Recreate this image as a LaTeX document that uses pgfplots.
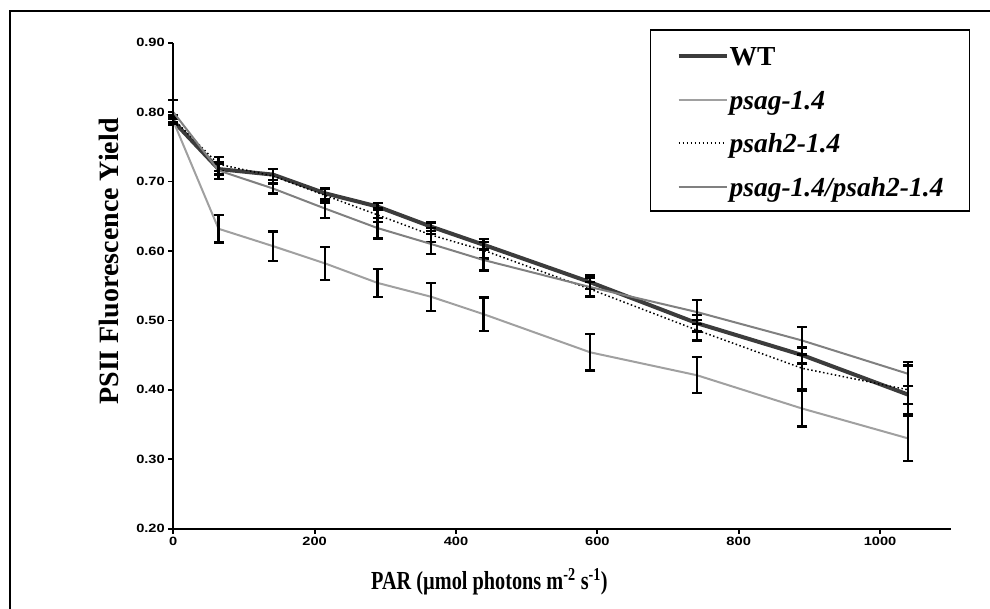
\documentclass[border=0pt]{standalone}
\usepackage{fontspec}
\setmainfont{Liberation Serif}
\newfontfamily\tickfont[FakeStretch=1.22]{Liberation Sans}
\newfontfamily\xlabfont[FakeStretch=0.78]{Liberation Serif}
\usepackage{pgfplots}
\usepackage{pgfplotstable}
\pgfplotsset{compat=1.18}
\definecolor{wtcol}{HTML}{3C3C3C}
\definecolor{psagcol}{HTML}{A0A0A0}
\definecolor{dblcol}{HTML}{808080}
\pgfplotsset{eb/.style={error bars/.cd, y dir=both, y explicit,
  error bar style={line width=2.3pt, black, solid},
  error mark options={line width=2.3pt, black, solid, mark size=5pt, rotate=90}}}

\pgfplotstableread{
x y e
0 0.787 0.005
64 0.718 0.008
141 0.710 0.008
215 0.683 0.008
289 0.664 0.005
365 0.635 0.006
439 0.609 0.008
590 0.555 0.010
741 0.496 0.012
890 0.450 0.012
1040 0.393 0.013
}\wt
\pgfplotstableread{
x y e
0 0.787 0.004
64 0.632 0.020
141 0.607 0.021
215 0.582 0.024
289 0.554 0.020
365 0.534 0.020
439 0.509 0.024
590 0.454 0.026
741 0.421 0.026
890 0.373 0.026
1040 0.330 0.032
}\psag
\pgfplotstableread{
x y e
0 0.790 0.005
64 0.725 0.010
141 0.708 0.010
215 0.680 0.010
289 0.652 0.010
365 0.623 0.010
439 0.601 0.012
590 0.545 0.010
741 0.486 0.015
890 0.431 0.030
1040 0.400 0.035
}\psah
\pgfplotstableread{
x y e
0 0.800 0.017
64 0.716 0.012
141 0.690 0.007
215 0.661 0.013
289 0.633 0.015
365 0.610 0.014
439 0.587 0.015
590 0.548 0.014
741 0.512 0.017
890 0.471 0.020
1040 0.423 0.017
}\dbl

\begin{document}
\begin{tikzpicture}
\useasboundingbox (0pt,0pt) rectangle (990pt,609pt);
\draw[line width=2.6pt] (10pt,-30pt) -- (10pt,598pt) -- (1030pt,598pt);
\begin{axis}[
  at={(173.3pt,80.3pt)}, anchor=south west, scale only axis,
  width=777.4pt, height=486pt,
  xmin=0, xmax=1100, ymin=0.2, ymax=0.9,
  clip=false,
  axis x line=bottom, axis y line=left,
  axis line style={-, line width=2.2pt},
  xtick={0,200,400,600,800,1000},
  ytick={0.2,0.3,0.4,0.5,0.6,0.7,0.8,0.9},
  tick align=outside, major tick length=5pt,
  tick style={line width=1.8pt, black},
  tick label style={font=\tickfont\bfseries\fontsize{12}{14}\selectfont},
  xticklabel style={/pgf/number format/.cd, 1000 sep={}, assume math mode=true},
  yticklabel style={/pgf/number format/.cd, fixed, fixed zerofill, precision=2, assume math mode=true},
  xlabel={\xlabfont\bfseries PAR (µmol photons m\textsuperscript{-2} s\textsuperscript{-1})},
  xlabel style={at={(rel axis cs:0.4067,-0.1261)}, anchor=base, font=\fontsize{26}{30}\selectfont, inner sep=0pt},
  ylabel={PSII Fluorescence Yield},
  ylabel style={at={(rel axis cs:-0.0711,0.5498)}, anchor=base, font=\fontsize{28}{32}\selectfont\bfseries, inner sep=0pt},
  legend style={at={(rel axis cs:0.613,1.0276)}, anchor=north west, draw=black, line width=1.5pt,
    inner xsep=26pt, inner ysep=5pt, row sep=3.6pt,
    font=\fontsize{27.5}{30}\selectfont\bfseries,
    nodes={text height=30.7pt, text depth=9.3pt, inner sep=0pt},
    /tikz/every odd column/.append style={column sep=1pt}},
  legend cell align=left,
  legend image code/.code={\draw[#1] (0pt,-1pt) -- (48pt,-1pt);},
]
\addplot[wtcol, line width=4pt, eb] table[x=x, y=y, y error=e] {\wt};
\addlegendentry{WT}
\addplot[psagcol, line width=2pt, eb] table[x=x, y=y, y error=e] {\psag};
\addlegendentry{\itshape psag-1.4}
\addplot[black, line width=1.5pt, dash pattern=on 1.5pt off 2.5pt, eb] table[x=x, y=y, y error=e] {\psah};
\addlegendentry{\itshape psah2-1.4}
\addplot[dblcol, line width=2pt, eb] table[x=x, y=y, y error=e] {\dbl};
\addlegendentry{\itshape psag-1.4/psah2-1.4}
\end{axis}
\end{tikzpicture}
\end{document}
